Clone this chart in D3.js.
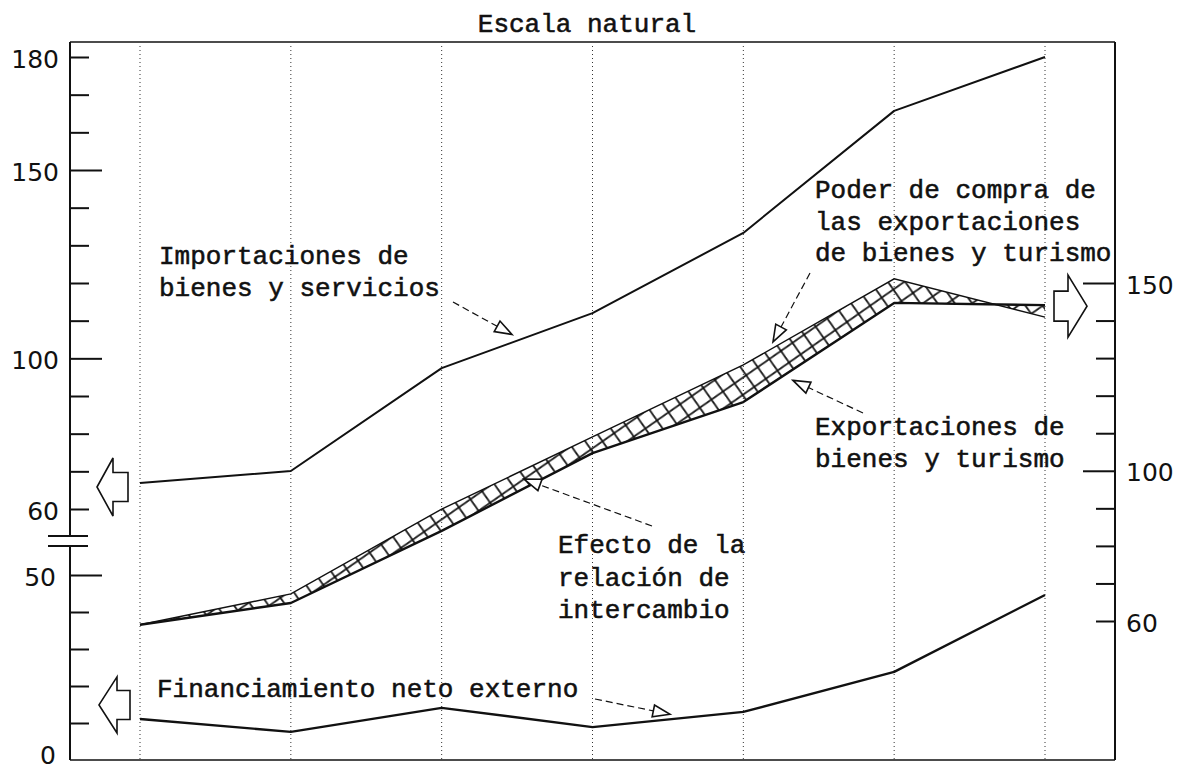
<!DOCTYPE html>
<html><head><meta charset="utf-8">
<script src="https://cdn.jsdelivr.net/npm/d3@7"></script>
<style>
body{margin:0;background:#fff;}
svg{display:block;}
.mono{font-family:"Liberation Mono","DejaVu Sans Mono",monospace;font-size:26px;fill:#111;stroke:#111;stroke-width:0.55px;}
.num text{font-family:"DejaVu Sans",sans-serif;font-size:25px;fill:#111;}
</style></head><body>
<svg id="chart" width="1181" height="771"></svg>
<script>
// ---- data ----
const periods = ["1","2","3","4","5","6","7"];
const importaciones  = [66.9, 70.1, 97.4, 112.0, 133.3, 165.7, 180.0]; // left upper scale
const financiamiento = [11.1, 7.6, 14.1, 8.9, 13.0, 23.8, 44.6];       // left lower scale
const exportaciones  = [59.0, 64.8, 84.0, 104.7, 118.3, 144.7, 144.1]; // right scale
const poderCompra    = [59.0, 67.2, 89.8, 109.0, 128.2, 151.1, 140.9]; // right scale

const leftUpperTicks = [60,70,80,90,100,110,120,130,140,150,160,170,180];
const leftUpperLabels = [60,100,150,180];
const leftLowerTicks = [10,20,30,40,50];
const leftLowerLabels = [0,50];
const rightTicks = [60,70,80,90,100,110,120,130,140,150];
const rightLabels = [60,100,150];
const majorTicks = [50,100,150];

const title = "Escala natural";
const lblImport = ["Importaciones de","bienes y servicios"];
const lblPoder = ["Poder de compra de","las exportaciones","de bienes y turismo"];
const lblExport = ["Exportaciones de","bienes y turismo"];
const lblEfecto = ["Efecto de la","relación de","intercambio"];
const lblFin = ["Financiamiento neto externo"];

// ---- layout ----
const L = 70, R = 1115, T = 42, B = 760;
const breakTop = 536, breakBot = 546;
const ink = "#111";

const svg = d3.select("#chart");

const x = d3.scalePoint().domain(periods).range([140, 1045]);
const yLU = d3.scaleLinear().domain([60,180]).range([509, 57]);
const yLL = d3.scaleLinear().domain([0,50]).range([B, 575]);
const yR  = d3.scaleLinear().domain([60,150]).range([621, 283]);

// hatch pattern
const defs = svg.append("defs");
const S = 20;
const pat = defs.append("pattern").attr("id","hatch").attr("patternUnits","userSpaceOnUse")
  .attr("width",S).attr("height",S).attr("patternTransform","rotate(10)");
pat.append("path").attr("d",`M0,0 L${S},${S} M${S},0 L0,${S} M-2,${S-2} L2,${S+2} M${S-2},-2 L${S+2},2 M-2,2 L2,-2 M${S-2},${S+2} L${S+2},${S-2}`)
  .attr("stroke",ink).attr("stroke-width",1.7).attr("fill","none");

// dotted vertical guides
svg.append("g").selectAll("line").data(periods).join("line")
  .attr("x1",d=>x(d)).attr("x2",d=>x(d)).attr("y1",T+4).attr("y2",B)
  .attr("stroke","#333").attr("stroke-width",1).attr("stroke-dasharray","1,3");

// frame
const frame = svg.append("g").attr("stroke",ink).attr("stroke-width",2).attr("fill","none");
frame.append("line").attr("x1",L).attr("x2",R).attr("y1",T).attr("y2",T).attr("stroke-width",1.6);
frame.append("line").attr("x1",L).attr("x2",R).attr("y1",B).attr("y2",B).attr("stroke-width",1.6);
frame.append("line").attr("x1",R).attr("x2",R).attr("y1",T).attr("y2",B);
frame.append("line").attr("x1",L).attr("x2",L).attr("y1",T).attr("y2",breakTop);
frame.append("line").attr("x1",L).attr("x2",L).attr("y1",breakBot).attr("y2",B);
frame.append("line").attr("x1",L-22).attr("x2",L+18).attr("y1",breakTop).attr("y2",breakTop);
frame.append("line").attr("x1",L-22).attr("x2",L+18).attr("y1",breakBot).attr("y2",breakBot);

// axes
function styleAxis(g, sign){
  g.attr("class","num");
  g.select(".domain").remove();
  g.selectAll(".tick line").attr("stroke",ink).attr("stroke-width",2)
    .attr("x2", d => sign * (majorTicks.includes(d) ? 32 : 19));
  g.selectAll(".tick text").attr("fill",ink).attr("dy","0.4em");
}
svg.append("g").attr("transform",`translate(${L},0)`)
  .call(d3.axisLeft(yLU).tickValues(leftUpperTicks).tickSize(-19).tickPadding(11)
    .tickFormat(d => leftUpperLabels.includes(d) ? d : ""))
  .call(g => styleAxis(g, 1));
svg.append("g").attr("transform",`translate(${L},0)`)
  .call(d3.axisLeft(yLL).tickValues([0, ...leftLowerTicks]).tickSize(-19).tickPadding(14)
    .tickFormat(d => leftLowerLabels.includes(d) ? d : ""))
  .call(g => styleAxis(g, 1))
  .call(g => g.selectAll(".tick").filter(d => d===0).select("text").attr("dy","0.12em"))
  .call(g => g.selectAll(".tick line").filter(d => d===0).remove());
svg.append("g").attr("transform",`translate(${R},0)`)
  .call(d3.axisRight(yR).tickValues(rightTicks).tickSize(-20).tickPadding(11)
    .tickFormat(d => rightLabels.includes(d) ? d : ""))
  .call(g => styleAxis(g, -1));

// hatched band (terms-of-trade effect)
const idx = d3.range(periods.length);
svg.append("path").datum(idx)
  .attr("d", d3.area().x(i=>x(periods[i])).y0(i=>yR(exportaciones[i])).y1(i=>yR(poderCompra[i])))
  .attr("fill","url(#hatch)").attr("stroke","none");
svg.append("path").datum(idx)
  .attr("d", d3.line().x(i=>x(periods[i])).y(i=>yR(poderCompra[i])))
  .attr("fill","none").attr("stroke",ink).attr("stroke-width",1.4);

// lines
function drawLine(vals, scale, w){
  svg.append("path").datum(idx)
    .attr("d", d3.line().x(i=>x(periods[i])).y(i=>scale(vals[i])))
    .attr("fill","none").attr("stroke",ink).attr("stroke-width",w).attr("stroke-linejoin","round");
}
drawLine(importaciones, yLU, 2);
drawLine(exportaciones, yR, 2.4);
drawLine(financiamiento, yLL, 2.4);

// helpers
function yAt(vals, scale, px){
  const xs = periods.map(p=>x(p));
  let i = d3.bisectRight(xs, px) - 1; i = Math.max(0, Math.min(i, xs.length-2));
  const t = (px - xs[i])/(xs[i+1]-xs[i]);
  return scale(vals[i]) + t*(scale(vals[i+1]) - scale(vals[i]));
}
function leader(x1,y1,x2,y2){
  const a = Math.atan2(y2-y1, x2-x1), hl = 17, hw = 6;
  const bx = x2 - hl*Math.cos(a), by = y2 - hl*Math.sin(a);
  svg.append("line").attr("x1",x1).attr("y1",y1).attr("x2",bx).attr("y2",by)
    .attr("stroke",ink).attr("stroke-width",1.2).attr("stroke-dasharray","7,4");
  const px = -Math.sin(a), py = Math.cos(a);
  svg.append("path").attr("d",`M${x2},${y2} L${bx+px*hw},${by+py*hw} L${bx-px*hw},${by-py*hw} Z`)
    .attr("fill","#fff").attr("stroke",ink).attr("stroke-width",1.6);
}
function blockArrow(tip, base, tail, cy, hh, sh){
  svg.append("path").attr("d",
    `M${tip},${cy} L${base},${cy-hh} L${base},${cy-sh} L${tail},${cy-sh} L${tail},${cy+sh} L${base},${cy+sh} L${base},${cy+hh} Z`)
    .attr("fill","#fff").attr("stroke",ink).attr("stroke-width",1.6).attr("stroke-linejoin","miter");
}
function label(lines, x0, y0, dy, anchor){
  const t = svg.append("text").attr("class","mono").attr("text-anchor",anchor||"start");
  lines.forEach((s,i)=> t.append("tspan").attr("x",x0).attr("y",y0+i*dy).text(s));
}

// annotations
leader(453, 302, 512, yAt(importaciones, yLU, 512) - 8);
leader(810, 273, 773, yAt(poderCompra, yR, 773) - 6);
leader(863, 413, 793, yAt(exportaciones, yR, 793) + 11);
leader(652, 526, 524, (yAt(exportaciones, yR, 524) + yAt(poderCompra, yR, 524))/2);
leader(595, 699, 670, yAt(financiamiento, yLL, 670) - 5);

blockArrow(97, 113, 128, yLU(importaciones[0]) + 4, 29, 14.5);
blockArrow(99, 117, 130, yLL(financiamiento[0]) - 14, 28, 14.5);
blockArrow(1087, 1068, 1054, yR(exportaciones[6]) + 1, 31, 15);

svg.append("text").attr("class","mono").attr("x",587).attr("y",32).attr("text-anchor","middle").text(title);
label(lblImport, 159, 264, 32);
label(lblPoder, 815, 198, 31.5);
label(lblExport, 815, 435, 32);
label(lblEfecto, 558, 553, 32.5);
label(lblFin, 157, 697, 32);
</script>
</body></html>
